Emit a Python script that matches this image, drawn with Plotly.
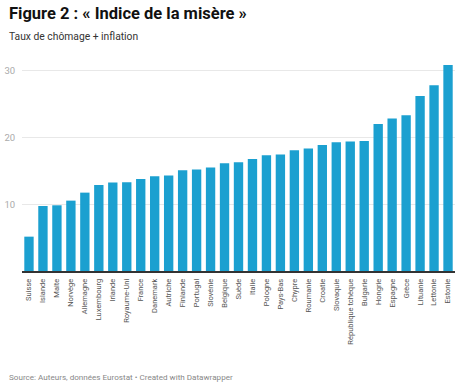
import plotly.graph_objects as go

countries = ["Suisse", "Islande", "Malte", "Norvège", "Allemagne", "Luxembourg", "Irlande",
             "Royaume-Uni", "France", "Danemark", "Autriche", "Finlande", "Portugal", "Slovénie",
             "Belgique", "Suède", "Italie", "Pologne", "Pays-Bas", "Chypre", "Roumanie", "Croatie",
             "Slovaquie", "République tchèque", "Bulgarie", "Hongrie", "Espagne", "Grèce",
             "Lituanie", "Lettonie", "Estonie"]
values = [5.15, 9.75, 9.85, 10.55, 11.75, 12.9, 13.25, 13.3, 13.8, 14.2, 14.3, 15.1, 15.2, 15.5,
          16.15, 16.3, 16.8, 17.35, 17.45, 18.1, 18.35, 18.9, 19.3, 19.4, 19.5, 22.05, 22.85,
          23.35, 26.25, 27.85, 30.9]
y_ticks = [10, 20, 30]

W, H = 460, 385
L, R = 18, 455.4
TOP, BASE = 61, 271
YMAX = (BASE - TOP) / 6.67

def px(x):
    return (x - L) / (R - L)

def py(y):
    return (BASE - y) / (BASE - TOP)

fig = go.Figure(go.Bar(x=countries, y=values, marker_color="#1ba0d0", marker_line_width=0))

fig.update_layout(
    width=W, height=H,
    margin=dict(l=L, r=W - R, t=TOP, b=H - BASE, pad=0),
    paper_bgcolor="white", plot_bgcolor="white",
    bargap=0.33,
    showlegend=False,
    font=dict(family="Roboto", color="#333"),
    xaxis=dict(tickangle=-90, tickfont=dict(size=7.5, color="#555"), showgrid=False,
               showline=True, linecolor="#333", linewidth=1.5, ticks="outside", ticklen=3,
               tickcolor="rgba(0,0,0,0)", fixedrange=True),
    yaxis=dict(range=[0, YMAX], tickvals=y_ticks, tickfont=dict(size=9.5, color="#aaa"),
               showgrid=True, gridcolor="#e8e8e8", gridwidth=1, zeroline=False,
               ticks="outside", ticklen=4, tickcolor="rgba(0,0,0,0)"),
    annotations=[
        dict(text="<b>Figure 2 : « Indice de la misère »</b>", xref="paper", yref="paper",
             x=px(3), y=py(2), xanchor="left", yanchor="top", showarrow=False,
             font=dict(size=16.5, color="#111", family="Roboto")),
        dict(text="Taux de chômage + inflation", xref="paper", yref="paper",
             x=px(3), y=py(28), xanchor="left", yanchor="top", showarrow=False,
             font=dict(size=10.3, color="#333", family="Roboto")),
        dict(text="Source: Auteurs, données Eurostat • Created with Datawrapper", xref="paper",
             yref="paper", x=px(3), y=py(369.5), xanchor="left", yanchor="top", showarrow=False,
             font=dict(size=8.1, color="#888", family="Roboto")),
    ],
)

fig.write_html("out.html")
